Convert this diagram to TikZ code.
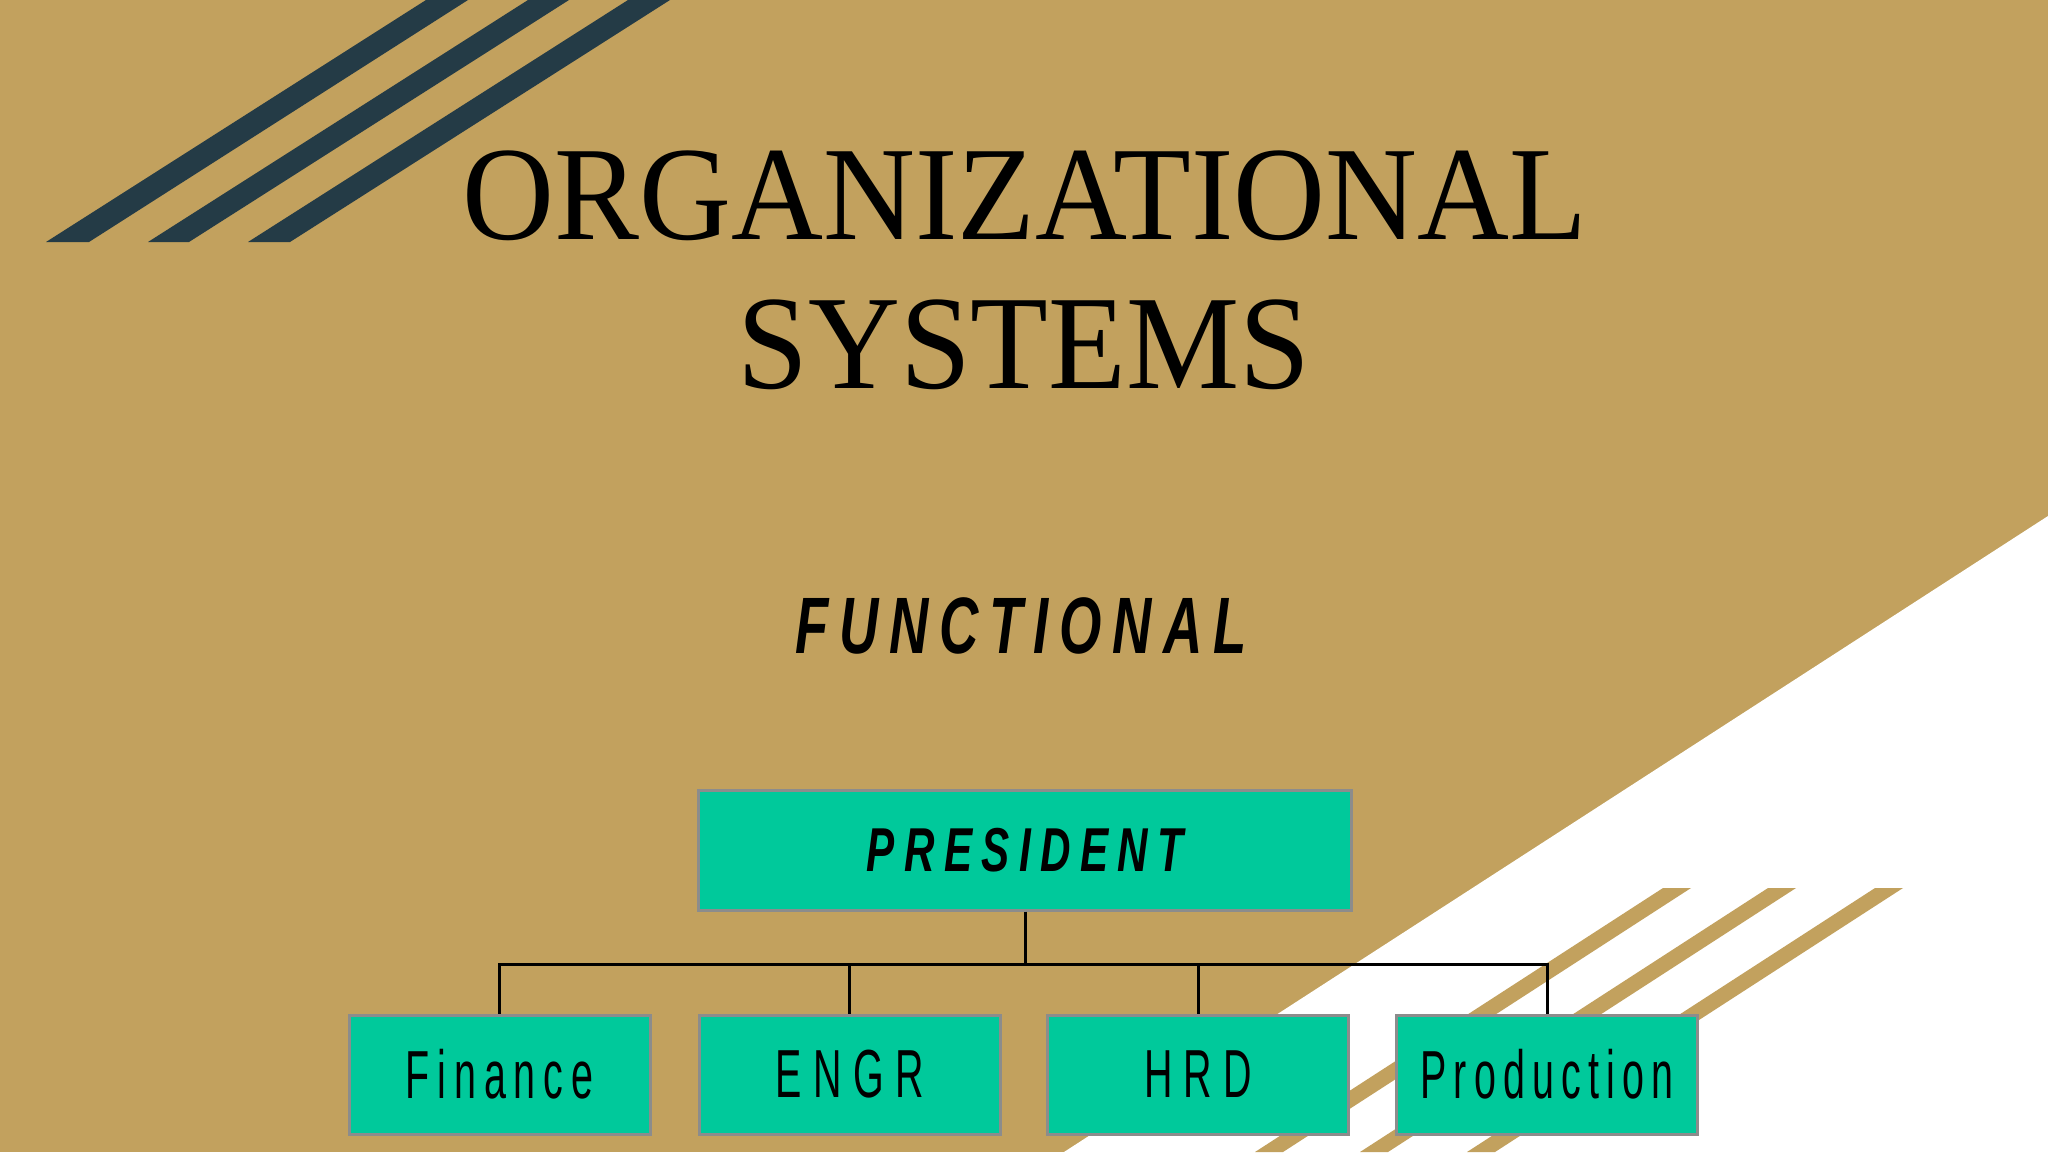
\documentclass[tikz,border=0pt]{standalone}
\usepackage{fontspec}
\setmainfont{Liberation Serif}[FakeStretch=0.95]
\newfontfamily\condfont[FakeStretch=0.68]{Liberation Sans}
\newfontfamily\narrowfont[FakeStretch=0.58]{Liberation Sans}
\definecolor{tanbg}{HTML}{C2A15E}
\definecolor{darkstripe}{HTML}{243B46}
\definecolor{teal}{HTML}{00C99B}
\definecolor{boxedge}{HTML}{8C8C8C}
\makeatletter
\newcommand\tracked[2]{\def\tr@gap{#1}\let\tr@sep\relax\@tfor\tr@c:=#2\do{\tr@sep\tr@c\def\tr@sep{\kern\tr@gap}}}
\makeatother
\tikzset{
  orgbox/.style={draw=boxedge, line width=1.5pt, fill=teal, inner sep=0pt, align=center},
  topbox/.style={orgbox, minimum width=326.5pt, minimum height=60pt},
  subbox/.style={orgbox, minimum width=150.5pt, minimum height=59.5pt, font=\narrowfont\fontsize{34}{36}\selectfont},
  link/.style={draw=black, line width=1.5pt}
}
\begin{document}
\begin{tikzpicture}[x=0.5pt,y=-0.5pt]
\useasboundingbox (0,0) rectangle (2048,1152);
\fill[tanbg] (0,0) rectangle (2048,1152);
% white triangle
\fill[white] (2048,516) -- (2048,1152) -- (1064,1152) -- cycle;
% dark stripes top left
\fill[darkstripe] (46,242) -- (89,242) -- (468,0) -- (426,0) -- cycle;
\fill[darkstripe] (148,242) -- (189,242) -- (569,0) -- (528,0) -- cycle;
\fill[darkstripe] (248,242) -- (290,242) -- (670,0) -- (628,0) -- cycle;
% tan stripes bottom right
\fill[tanbg] (1663,888) -- (1691,888) -- (1283,1152) -- (1255,1152) -- cycle;
\fill[tanbg] (1768,888) -- (1796,888) -- (1388,1152) -- (1360,1152) -- cycle;
\fill[tanbg] (1875,888) -- (1903,888) -- (1495,1152) -- (1467,1152) -- cycle;
% titles
\node[anchor=base, inner sep=0pt, font=\fontsize{67}{72}\selectfont] (t1) at (1025,239) {ORGANIZATIONAL};
\node[anchor=base, inner sep=0pt, font=\fontsize{67}{72}\selectfont] (t2) at (1024,388) {SYSTEMS};
\node[anchor=base, inner sep=0pt, font=\condfont\bfseries\itshape\fontsize{40}{44}\selectfont] (func) at (1021,653) {\tracked{5.4pt}{FUNCTIONAL}};
% boxes
\node[topbox, font=\condfont\bfseries\itshape\fontsize{31}{34}\selectfont] (pres) at (1025,850) {\tracked{4.7pt}{PRESIDENT}};
\node[subbox] (fin) at (499.5,1074.5) {\tracked{3.9pt}{Finance}};
\node[subbox] (eng) at (849.5,1074.5) {\tracked{5.8pt}{ENGR}};
\node[subbox] (hrd) at (1198,1074.5) {\tracked{5.6pt}{HRD}};
\node[subbox] (prod) at (1547,1074.5) {\tracked{3.6pt}{Production}};
% connectors
\coordinate (bus) at (1025,964);
\draw[link] (pres.south) -- (pres.south |- bus);
\draw[link] (fin.north) -- (fin.north |- bus) -- (prod.north |- bus) -- (prod.north);
\draw[link] (eng.north) -- (eng.north |- bus);
\draw[link] (hrd.north) -- (hrd.north |- bus);
\end{tikzpicture}
\end{document}
